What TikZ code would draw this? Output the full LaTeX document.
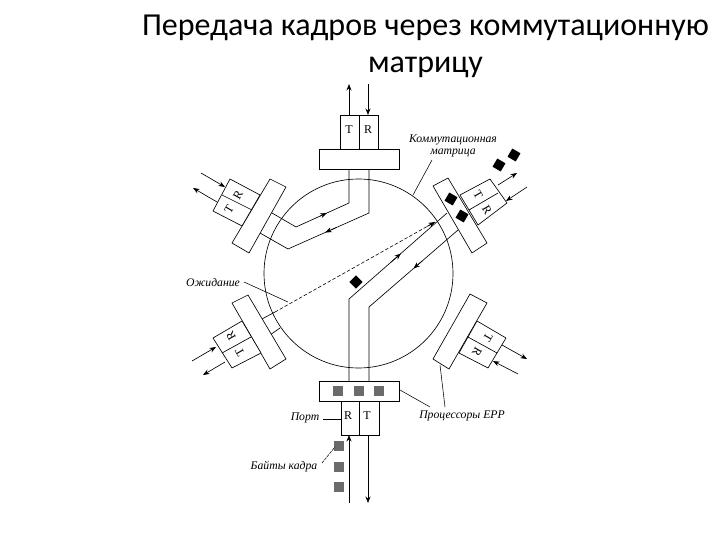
\documentclass[tikz,border=0pt]{standalone}
\usepackage{fontspec}
\setmainfont{Liberation Serif}
\newfontfamily\titlefont{Carlito}
\usetikzlibrary{arrows.meta,calc}
\tikzset{
  wire/.style={line width=0.65pt,black},
  flow/.style={wire,-{Stealth[length=6.5pt,width=5pt]}},
  leader/.style={line width=0.55pt,black},
  dashwire/.style={line width=0.6pt,black,dash pattern=on 3.5pt off 2pt},
  block/.style={wire,fill=white},
  letter/.style={font=\fontsize{12}{12}\selectfont,inner sep=0pt},
  caption/.style={font=\fontsize{11.7}{12}\selectfont\itshape,align=center,inner sep=0pt},
  titletext/.style={font=\titlefont\fontsize{32}{34}\selectfont,inner sep=0pt},
  solidmark/.style={fill=black,draw=none,minimum size=9.5pt,inner sep=0pt,shape=rectangle},
  hatchmark/.style={fill=black!58,draw=none,minimum size=9.5pt,inner sep=0pt,shape=rectangle},
}
\begin{document}
\begin{tikzpicture}[x=1pt,y=-1pt]
\useasboundingbox (0,0) rectangle (720,540);
\node[titletext] (t1) at (425.5,28) {Передача кадров через коммутационную};
\node[titletext] (t2) at (425.5,67) {матрицу};

% matrix circle
\node[draw,circle,wire,minimum size=189pt,inner sep=0pt] (ring) at (358.5,273.5) {};

% wires inside the matrix: top port <-> upper-left port
\coordinate (a1) at (349,169); \coordinate (a2) at (349,203); \coordinate (a3) at (296,227); \coordinate (a4) at (272,213);
\coordinate (b1) at (369,169); \coordinate (b2) at (369,213); \coordinate (b3) at (288,249); \coordinate (b4) at (260,233);
\draw[wire] (a1)--(a2)--(a3)--(a4);
\draw[wire] (b1)--(b2)--(b3)--(b4);
\draw[flow] ($(a3)!0.45!(a2)$) -- ($(a3)!0.58!(a2)$);
\draw[flow] ($(b2)!0.40!(b3)$) -- ($(b2)!0.54!(b3)$);

% wires: bottom port <-> upper-right port
\coordinate (c1) at (349,381); \coordinate (c2) at (349,299); \coordinate (c3) at (447,213);
\coordinate (d1) at (369,381); \coordinate (d2) at (369,307); \coordinate (d3) at (458,230);
\draw[wire] (c1)--(c2)--(c3);
\draw[wire] (d1)--(d2)--(d3);
\draw[flow] ($(c2)!0.43!(c3)$) -- ($(c2)!0.53!(c3)$);
\draw[flow] ($(d3)!0.40!(d2)$) -- ($(d3)!0.50!(d2)$);

% waiting path and stubs of lower-left port
\coordinate (e0) at (262,319); \coordinate (e1) at (275,312); \coordinate (e2) at (435,222);
\coordinate (f0) at (270,335); \coordinate (f1) at (280,328);
\draw[wire] (e0)--(e1);
\draw[dashwire] (e1)--(e2);
\draw[flow] ($(e1)!0.95!(e2)$) -- (e2);
\draw[wire] (f0)--(f1);

% top port
\draw[block] (340,115) rectangle (378,149);
\draw[wire] (359,115)--(359,149);
\draw[block] (319,149) rectangle (399,169);
\node[letter] (tT) at (349,130) {T};
\node[letter] (tR) at (368,130) {R};
\coordinate (tTo) at (349,115); \coordinate (tTe) at (349,84);
\coordinate (tRs) at (368,84); \coordinate (tRe) at (368,115);
\draw[flow] (tTo)--(tTe);
\draw[flow] (tRs)--(tRe);

% bottom port
\draw[block] (341,401) rectangle (379,435);
\draw[wire] (359,401)--(359,435);
\draw[block] (319,381) rectangle (399,401);
\node[letter] (bR) at (348,416) {R};
\node[letter] (bT) at (367,416) {T};
\node[hatchmark] (h1) at (338,391) {};
\node[hatchmark] (h2) at (359,391) {};
\node[hatchmark] (h3) at (379,391) {};
\node[hatchmark] (h4) at (339,446) {};
\node[hatchmark] (h5) at (339,467) {};
\node[hatchmark] (h6) at (339,487) {};
\coordinate (bRs) at (349,503); \coordinate (bRe) at (349,435);
\coordinate (bTs) at (368,435); \coordinate (bTe) at (368,503);
\draw[flow] (bRs)--(bRe);
\draw[flow] (bTs)--(bTe);

% upper-left port
\draw[block] (270,179)--(286,187)--(249,253)--(232,243)--cycle;
\draw[block] (230,179)--(260,195)--(242,226)--(213,211)--cycle;
\draw[wire] (222,195)--(252,210);
\node[letter,rotate=60] (ulR) at (238,195) {R};
\node[letter,rotate=60] (ulT) at (229,209) {T};
\coordinate (ul1) at (201,173); \coordinate (ul2) at (225,187);
\coordinate (ul3) at (217,202); \coordinate (ul4) at (193,188);
\draw[flow] (ul1)--(ul2);
\draw[flow] (ul3)--(ul4);

% upper-right port
\draw[block] (448,178)--(433,186)--(472,253)--(487,243)--cycle;
\draw[block] (460,195)--(490,179)--(507,203)--(478,225)--cycle;
\draw[wire] (469,210)--(498,193);
\node[letter,rotate=-60] (urT) at (478,195) {T};
\node[letter,rotate=-60] (urR) at (487,210) {R};
\coordinate (ur1) at (498,185); \coordinate (ur2) at (517,173);
\coordinate (ur3) at (527,187); \coordinate (ur4) at (506,201);
\draw[flow] (ur1)--(ur2);
\draw[flow] (ur3)--(ur4);
\node[solidmark,rotate=-30] (s1) at (451,199) {};
\node[solidmark,rotate=-30] (s2) at (462,216) {};
\node[solidmark,rotate=-30] (s3) at (499,165) {};
\node[solidmark,rotate=-30] (s4) at (514,155) {};
\node[solidmark,rotate=45] (s5) at (356,282) {};

% lower-left port
\draw[block] (248,295)--(232,303)--(270,369)--(286,359)--cycle;
\draw[block] (213,338)--(242,321)--(261,353)--(232,368)--cycle;
\draw[wire] (222,353)--(251,337);
\node[letter,rotate=120] (llR) at (231,336) {R};
\node[letter,rotate=120] (llT) at (240,352) {T};
\coordinate (ll1) at (192,361); \coordinate (ll2) at (216,347);
\coordinate (ll3) at (225,362); \coordinate (ll4) at (203,375);
\draw[flow] (ll1)--(ll2);
\draw[flow] (ll3)--(ll4);

% lower-right port
\draw[block] (470,294)--(487,303)--(449,369)--(433,359)--cycle;
\draw[block] (477,321)--(506,338)--(488,368)--(459,353)--cycle;
\draw[wire] (468,337)--(497,353);
\node[letter,rotate=-120] (lrT) at (488,338) {T};
\node[letter,rotate=-120] (lrR) at (477,352) {R};
\coordinate (lr1) at (502,345); \coordinate (lr2) at (527,359);
\coordinate (lr3) at (518,374); \coordinate (lr4) at (493,361);
\draw[flow] (lr1)--(lr2);
\draw[flow] (lr3)--(lr4);

% captions
\node[caption] (cMat) at (453,146) {Коммутационная\\матрица};
\node[caption] (cWait) at (213,283) {Ожидание};
\node[caption] (cPort) at (305,418) {Порт};
\node[caption] (cBytes) at (284,467) {Байты кадра};
\node[caption] (cEpp) at (462,416) {Процессоры EPP};

% leaders
\coordinate (lm1) at (432,160); \coordinate (lm2) at (413,195);
\coordinate (lw1) at (244,282); \coordinate (lw2) at (288,302);
\coordinate (lp1) at (323,419); \coordinate (lp2) at (341,419);
\coordinate (lb1) at (322,463); \coordinate (lb2) at (335,447);
\coordinate (le1) at (400,390); \coordinate (le2) at (430,407);
\coordinate (le3) at (445,407); \coordinate (le4) at (440,365);
\draw[leader] (lm1)--(lm2);
\draw[leader] (lw1)--(lw2);
\draw[leader] (lp1)--(lp2);
\draw[leader,dash pattern=on 3pt off 1pt] (lb1)--(lb2);
\draw[leader] (le1)--(le2);
\draw[leader] (le3)--(le4);
\end{tikzpicture}
\end{document}
